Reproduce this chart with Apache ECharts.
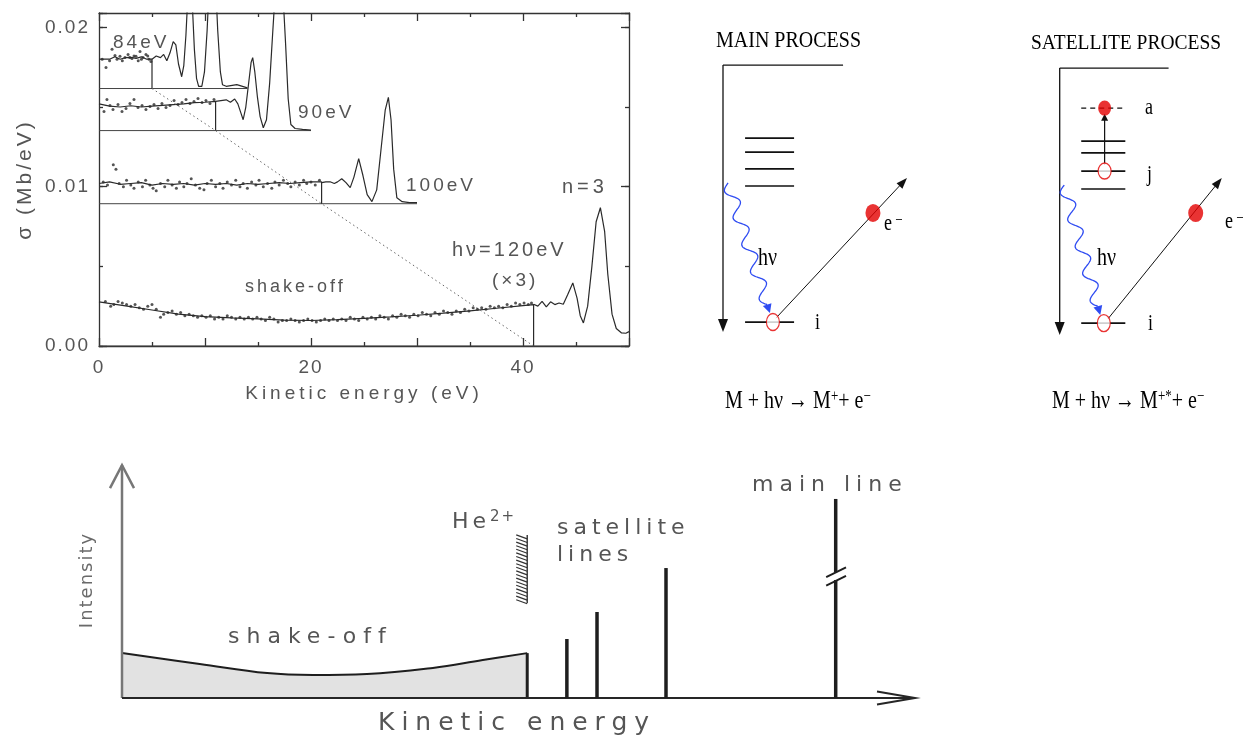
<!DOCTYPE html>
<html>
<head>
<meta charset="utf-8">
<script src="https://cdn.jsdelivr.net/npm/echarts@6/dist/echarts.min.js"></script>
<style>
  html, body { margin: 0; padding: 0; background: #fff; }
  #c { width: 1246px; height: 738px; }
</style>
</head>
<body>
<div id="c"></div>
<script>
// Letter-spaced lettering: a font list that ends in "trackN" is drawn with N px tracking.
(function () {
  const P = CanvasRenderingContext2D.prototype;
  if (!('letterSpacing' in P)) return;
  const apply = (ctx) => {
    const m = /track(\d+(?:\.\d+)?)/.exec(ctx.font);
    ctx.letterSpacing = m ? m[1] + 'px' : '0px';
  };
  const fill = P.fillText, stroke = P.strokeText, measure = P.measureText;
  P.fillText = function () { apply(this); return fill.apply(this, arguments); };
  P.strokeText = function () { apply(this); return stroke.apply(this, arguments); };
  P.measureText = function () { apply(this); return measure.apply(this, arguments); };
})();

// ---------------- He photoelectron spectra (upper left panel) ----------------
// kinetic energy in eV, cross section in Mb/eV; traces are stacked with vertical offsets
const photonLabels = ['84eV', '90eV', '100eV', 'hν=120eV'];
const thresholds = [5, 11, 21, 41];             // He2+ threshold: hν − 79 eV
const baselines = [0.01616, 0.01352, 0.00893, 0];
const traceEnds = [14, 20, 30, 50];
const xTickLabels = [0, 20, 40];
const yTickLabels = ['0.00', '0.01', '0.02'];

const level84 = [[0,0.0180],[1.0,0.0180],[1.5,0.01815],[2.0,0.0180],[2.5,0.0181],[3.0,0.01812],[3.5,0.01805],[4.0,0.01815],[4.5,0.0180],[5.0,0.0180]];
const trace84 = [[5.0,0.0180],[5.4,0.0182],[5.8,0.0181],[6.1,0.0183],[6.4,0.0179],[6.7,0.0184],[7.0,0.0191],[7.25,0.0189],[7.5,0.0177],[7.8,0.0169],[8.0,0.0176],[8.2,0.0195],[8.4,0.0222],[8.6,0.0240],[8.8,0.0215],[9.0,0.0186],[9.2,0.0168],[9.4,0.0163],[9.7,0.0163],[9.95,0.0172],[10.2,0.0198],[10.45,0.0235],[10.7,0.0262],[10.95,0.0235],[11.2,0.0198],[11.45,0.0172],[11.65,0.0164],[12.0,0.0163],[13.0,0.0164],[14.0,0.0162]];
const dots84 = [[0.3,0.0180],[0.66,0.01748],[1.0,0.0179],[1.23,0.01862],[1.51,0.01824],[1.7,0.0180],[1.98,0.01818],[2.2,0.0179],[2.45,0.01811],[2.74,0.0183],[2.9,0.0181],[3.11,0.01805],[3.3,0.0182],[3.49,0.01818],[3.7,0.0179],[3.87,0.01849],[4.0,0.0180],[4.15,0.01811],[4.43,0.0183],[4.6,0.0182],[4.72,0.01799],[4.9,0.01786]];

const level90 = [[0,0.0152],[1,0.01505],[2,0.0150],[3,0.01508],[4,0.0150],[5,0.01505],[6,0.0151],[7,0.01515],[8,0.0152],[9,0.01528],[10,0.0153],[11,0.01535]];
const trace90 = [[11.0,0.01535],[11.5,0.0154],[12.0,0.01545],[12.4,0.0153],[12.8,0.0155],[13.1,0.0152],[13.4,0.0146],[13.6,0.0142],[13.85,0.0150],[14.1,0.0164],[14.35,0.0178],[14.5,0.0181],[14.7,0.0172],[14.95,0.0156],[15.2,0.0144],[15.5,0.0137],[15.8,0.0142],[16.1,0.0165],[16.4,0.0198],[16.7,0.0230],[17.0,0.0250],[17.3,0.0228],[17.6,0.0190],[17.85,0.0155],[18.1,0.0139],[18.5,0.01365],[19.2,0.0136],[20.0,0.01355]];
const dots90 = [[0.47,0.01472],[0.75,0.01547],[1.04,0.01509],[1.32,0.01484],[1.79,0.01516],[2.17,0.01472],[2.55,0.0149],[2.92,0.01522],[3.3,0.01547],[3.68,0.01497],[4.06,0.01509],[4.43,0.01484],[4.81,0.01503],[5.19,0.01516],[5.57,0.0149],[5.94,0.01522],[6.32,0.01497],[6.7,0.01509],[7.08,0.01541],[7.45,0.01516],[7.83,0.01528],[8.21,0.01547],[8.58,0.01522],[8.96,0.01535],[9.34,0.01553],[9.72,0.01528],[10.09,0.01541],[10.47,0.01522],[10.85,0.01547]];

const level100 = [[0,0.0102],[1,0.0103],[2,0.01015],[3,0.0102],[4,0.01025],[5,0.0101],[6,0.0102],[7,0.01015],[8,0.0102],[9,0.0101],[10,0.0102],[11,0.01015],[12,0.0102],[13,0.0101],[14,0.0102],[15,0.01015],[16,0.0102],[17,0.01025],[18,0.0102],[19,0.01025],[20,0.0103],[21,0.0103]];
const trace100 = [[21.0,0.01025],[21.4,0.0103],[21.8,0.01031],[22.2,0.0102],[22.5,0.0103],[22.9,0.0105],[23.3,0.01025],[23.7,0.00994],[24.05,0.0106],[24.5,0.01176],[24.9,0.0107],[25.3,0.0095],[25.75,0.00906],[26.2,0.0098],[26.6,0.0123],[27.0,0.0148],[27.3,0.0156],[27.55,0.0142],[27.8,0.0111],[28.1,0.0093],[28.6,0.00906],[29.3,0.0090],[30.0,0.0090]];
const dots100 = [[0.4,0.0103],[0.8,0.0101],[1.35,0.01138],[1.6,0.0111],[1.9,0.0102],[2.3,0.0100],[2.6,0.0104],[3.0,0.0101],[3.3,0.0099],[3.7,0.0103],[4.1,0.0100],[4.4,0.0104],[4.8,0.0101],[5.1,0.0099],[5.4,0.00975],[5.8,0.0102],[6.2,0.0100],[6.5,0.0104],[6.9,0.0101],[7.3,0.0099],[7.6,0.0103],[8.0,0.0100],[8.3,0.0102],[8.7,0.0105],[9.1,0.0101],[9.5,0.0099],[9.9,0.0098],[10.2,0.0102],[10.6,0.0104],[11.0,0.0100],[11.4,0.0102],[11.7,0.0099],[12.1,0.0103],[12.5,0.0101],[12.9,0.0104],[13.3,0.0100],[13.6,0.0102],[14.0,0.0099],[14.4,0.0103],[14.8,0.0101],[15.1,0.0104],[15.5,0.0100],[15.9,0.0102],[16.3,0.0099],[16.6,0.0103],[17.0,0.0101],[17.4,0.0104],[17.8,0.0102],[18.1,0.0100],[18.5,0.0103],[18.9,0.0101],[19.3,0.0104],[19.6,0.0102],[20.0,0.0103],[20.4,0.0101],[20.8,0.0104]];

const level120 = [[0,0.00277],[2.5,0.00252],[5,0.00226],[7.5,0.00200],[10,0.00184],[12.5,0.00176],[15,0.00170],[17.5,0.00163],[20,0.00160],[22.5,0.00165],[25,0.00174],[27.5,0.00183],[30,0.00193],[32.5,0.00206],[35,0.00220],[37.5,0.00237],[40,0.00254],[41,0.00260]];
const trace120 = [[41.0,0.00262],[41.4,0.0025],[41.8,0.0028],[42.2,0.00245],[42.6,0.00277],[43.0,0.0026],[43.4,0.0027],[43.8,0.00262],[44.2,0.0032],[44.7,0.00396],[45.1,0.0030],[45.4,0.0019],[45.7,0.00145],[46.1,0.0025],[46.5,0.0050],[46.9,0.0078],[47.3,0.00868],[47.7,0.0072],[48.0,0.0045],[48.4,0.0020],[48.8,0.0011],[49.3,0.00082],[49.7,0.0008],[50.0,0.0009]];
const dots120 = [[0.6,0.0028],[1.1,0.0025],[1.4,0.0026],[1.8,0.0028],[2.2,0.0027],[2.6,0.0026],[3.0,0.0025],[3.4,0.0026],[3.8,0.0024],[4.2,0.0023],[4.6,0.0025],[5.0,0.0026],[5.4,0.0023],[5.8,0.0018],[6.1,0.0020],[6.5,0.0021],[6.9,0.0022],[7.3,0.0020],[7.7,0.0021],[8.1,0.0019],[8.5,0.0020],[8.9,0.0019],[9.3,0.0018],[9.7,0.0019],[10.1,0.0018],[10.5,0.0019],[10.9,0.0017],[11.3,0.0018],[11.7,0.0017],[12.1,0.0019],[12.5,0.0018],[12.9,0.0017],[13.3,0.0018],[13.7,0.0017],[14.1,0.0018],[14.5,0.0017],[14.9,0.0018],[15.3,0.0017],[15.7,0.0016],[16.1,0.0018],[16.5,0.0017],[16.9,0.0015],[17.3,0.0016],[17.7,0.0016],[18.1,0.0017],[18.5,0.0016],[18.9,0.0015],[19.3,0.0016],[19.7,0.0017],[20.1,0.0016],[20.5,0.0015],[20.9,0.0016],[21.3,0.0017],[21.7,0.0016],[22.1,0.0017],[22.5,0.0016],[22.9,0.0017],[23.3,0.0016],[23.7,0.0018],[24.1,0.0017],[24.5,0.0016],[24.9,0.0018],[25.3,0.0017],[25.7,0.0018],[26.1,0.0017],[26.5,0.0019],[26.9,0.0018],[27.3,0.0017],[27.7,0.0019],[28.1,0.0018],[28.5,0.0020],[28.9,0.0019],[29.3,0.0018],[29.7,0.0020],[30.1,0.0019],[30.5,0.0021],[30.9,0.0020],[31.3,0.0019],[31.7,0.0021],[32.1,0.0020],[32.5,0.0022],[32.9,0.0021],[33.3,0.0020],[33.7,0.0022],[34.1,0.0021],[34.5,0.0023],[34.9,0.0022],[35.3,0.0024],[35.7,0.0023],[36.1,0.0024],[36.5,0.0023],[36.9,0.0025],[37.3,0.0024],[37.7,0.0025],[38.1,0.0024],[38.5,0.0026],[38.9,0.0025],[39.3,0.0027],[39.7,0.0026],[40.1,0.0027],[40.5,0.0026],[40.8,0.0027]];

// ---------------- Schematic spectrum (bottom) ----------------
// arbitrary units: kinetic energy 0–100, intensity 0–100
const shakeOffCurve = [[0,19.1],[9.8,14.5],[18.3,10.6],[24.1,9.8],[30.9,10.2],[39.2,12.8],[45.5,16.2],[51.1,19.1]];
const heThreshold = [51.1, 40.4, 69.4];          // position, lower and upper end of the He2+ band
const satelliteLines = [[56.1,25.1],[59.9,36.6],[68.6,55.3]];
const mainLine = [90.0, 84.7];
const mainLineBreak = [50.2, 53.6];

// ---------------- Energy-level diagrams (upper right) ----------------
// arbitrary units 0–100 across and up each diagram
const mainLevels = [72.1, 67.1, 61.1, 55.0];
const mainCore = 6.4;
const satLevels = [72.1, 67.9, 61.4, 55.0];
const satExcited = 83.9;
const satCore = 7.1;

const INK = '#2a2a2a';
const GREY_TEXT = '#555';
const RED = '#e40000';
const BLUE = '#2f4cf2';
const SANS = "'Liberation Sans'";
const SERIF = "'Liberation Serif'";
const SCHEMA = "'DejaVu Sans'";
const tracked = (family, px) => family + ', track' + px;

// axis index pairs [x, y] per grid
const AX = { spec: [0, 0], schema: [2, 4], main: [3, 5], sat: [4, 6] };

function lineSeries(data, width, extra) {
  return Object.assign({
    type: 'line', xAxisIndex: 0, yAxisIndex: 0, data, showSymbol: false, symbol: 'none',
    lineStyle: { color: INK, width }, silent: true, z: 3
  }, extra || {});
}

function customSeries(ax, data, renderItem, z, encode) {
  return {
    type: 'custom', coordinateSystem: 'cartesian2d', xAxisIndex: ax[0], yAxisIndex: ax[1],
    data, renderItem, clip: false, silent: true, z: z || 3,
    encode: encode || { x: [0, 2], y: [1, 3] }
  };
}

function segments(color, width, dash) {
  return (params, api) => {
    const a = api.coord([api.value(0), api.value(1)]);
    const b = api.coord([api.value(2), api.value(3)]);
    return { type: 'line', shape: { x1: a[0], y1: a[1], x2: b[0], y2: b[1] },
      style: { stroke: color, lineWidth: width, lineDash: dash || null } };
  };
}

function arrows(color, width, len, half, open) {
  return (params, api) => {
    const a = api.coord([api.value(0), api.value(1)]);
    const b = api.coord([api.value(2), api.value(3)]);
    const dx = b[0] - a[0], dy = b[1] - a[1], L = Math.hypot(dx, dy);
    const ux = dx / L, uy = dy / L;
    const base = [b[0] - ux * len, b[1] - uy * len];
    const l = [base[0] - uy * half, base[1] + ux * half];
    const r = [base[0] + uy * half, base[1] - ux * half];
    const end = open ? b : [b[0] - ux * len * 0.5, b[1] - uy * len * 0.5];
    const children = [{ type: 'line', shape: { x1: a[0], y1: a[1], x2: end[0], y2: end[1] },
      style: { stroke: color, lineWidth: width } }];
    if (open) children.push({ type: 'polyline', shape: { points: [l, b, r] }, style: { stroke: color, lineWidth: width, fill: null } });
    else children.push({ type: 'polygon', shape: { points: [l, b, r] }, style: { fill: color } });
    return { type: 'group', children };
  };
}

// wavy photon line ending in an arrowhead
function photon(params, api) {
  const a = api.coord([api.value(0), api.value(1)]);
  const b = api.coord([api.value(2), api.value(3)]);
  const dx = b[0] - a[0], dy = b[1] - a[1], L = Math.hypot(dx, dy);
  const ux = dx / L, uy = dy / L, nx = -uy, ny = ux;
  const head = 9, body = L - head, turns = 4.5, amp = 6;
  const pts = [];
  for (let i = 0; i <= 180; i++) {
    const s = i / 180, d = s * body, w = amp * Math.sin(2 * Math.PI * turns * s);
    pts.push([a[0] + ux * d + nx * w, a[1] + uy * d + ny * w]);
  }
  const base = [a[0] + ux * body, a[1] + uy * body];
  return { type: 'group', children: [
    { type: 'polyline', shape: { points: pts }, style: { stroke: BLUE, lineWidth: 1.3, fill: null } },
    { type: 'polygon', shape: { points: [[base[0] + nx * 4.5, base[1] + ny * 4.5], b, [base[0] - nx * 4.5, base[1] - ny * 4.5]] }, style: { fill: BLUE } }
  ] };
}

// hatched band marking the He2+ threshold
function hatch(params, api) {
  const top = api.coord([api.value(0), api.value(2)]);
  const bot = api.coord([api.value(0), api.value(1)]);
  const children = [{ type: 'line', shape: { x1: top[0], y1: top[1], x2: bot[0], y2: bot[1] }, style: { stroke: '#333', lineWidth: 1.4 } }];
  for (let y = top[1]; y < bot[1] - 3; y += 3.6) {
    children.push({ type: 'line', shape: { x1: top[0] - 11, y1: y, x2: top[0], y2: y + 4 }, style: { stroke: '#333', lineWidth: 1.2 } });
  }
  return { type: 'group', children };
}

// ---------------- series ----------------
const series = [];
const spectra = [
  { level: level84, trace: trace84, dots: dots84 },
  { level: level90, trace: trace90, dots: dots90 },
  { level: level100, trace: trace100, dots: dots100 },
  { level: level120, trace: trace120, dots: dots120 }
];
spectra.forEach((s, k) => {
  const b = baselines[k], t = thresholds[k];
  series.push(lineSeries([[0, b], [traceEnds[k], b]], 1, { lineStyle: { color: '#444', width: 1 } }));
  series.push(lineSeries(s.level.concat([[t, b]]), 1.2));
  series.push(lineSeries(s.trace, 1.2));
  series.push({ type: 'scatter', xAxisIndex: 0, yAxisIndex: 0, data: s.dots, symbolSize: 3,
    itemStyle: { color: INK }, silent: true, z: 4 });
});
series.push(lineSeries(thresholds.map((t, k) => [t, baselines[k]]), 1,
  { lineStyle: { color: '#666', width: 1, type: [1.5, 3] } }));

// schematic spectrum
series.push({
  type: 'line', xAxisIndex: AX.schema[0], yAxisIndex: AX.schema[1], data: shakeOffCurve,
  smooth: 0.4, showSymbol: false, symbol: 'none', silent: true, z: 2,
  lineStyle: { color: '#1e1e1e', width: 2 }, areaStyle: { color: '#e2e2e2', opacity: 1 }
});
const soEnd = shakeOffCurve[shakeOffCurve.length - 1];
series.push(customSeries(AX.schema, [[soEnd[0], 0, soEnd[0], soEnd[1]]], segments('#1e1e1e', 3), 3));
series.push(customSeries(AX.schema, [[0, 0, 0, 99.1]], arrows('#777', 2.5, 23, 12, true), 3));
series.push(customSeries(AX.schema, [[0, 0, 100, 0]], arrows('#262626', 2, 38, 6.5, true), 3));
series.push(customSeries(AX.schema, [heThreshold], hatch, 3, { x: 0, y: [1, 2] }));
series.push(customSeries(AX.schema, satelliteLines.map(p => [p[0], 0, p[0], p[1]]), segments('#1e1e1e', 3.5), 3));
series.push(customSeries(AX.schema, [
  [mainLine[0], 0, mainLine[0], mainLineBreak[0]],
  [mainLine[0], mainLineBreak[1], mainLine[0], mainLine[1]]
], segments('#1e1e1e', 3.5), 3));
series.push(customSeries(AX.schema, [
  [mainLine[0] - 1.2, mainLineBreak[0] - 2.4, mainLine[0] + 1.3, mainLineBreak[0] + 1.8],
  [mainLine[0] - 1.2, mainLineBreak[1] - 2.2, mainLine[0] + 1.3, mainLineBreak[1] + 2.0]
], segments('#1e1e1e', 2), 3));

// energy-level diagrams
function diagram(ax, levels, core, span, frameRight, electron, dot, wave, coreX) {
  series.push(customSeries(ax, [[10, 98.2, frameRight, 98.2]], segments('#111', 1.3)));
  series.push(customSeries(ax, [[10, 98.2, 10, 2.9]], arrows('#111', 1.3, 13, 5, false)));
  series.push(customSeries(ax, levels.concat([core]).map(y => [span[0], y, span[1], y]), segments('#111', 1.6)));
  series.push(customSeries(ax, [electron], arrows('#111', 1, 11, 4, false)));
  series.push(customSeries(ax, [wave], photon, 4));
  series.push({ type: 'scatter', xAxisIndex: ax[0], yAxisIndex: ax[1], data: [[coreX, core]],
    symbolSize: [13, 17], itemStyle: { color: '#fff', borderColor: RED, borderWidth: 1.3 }, silent: true, z: 5 });
  series.push({ type: 'scatter', xAxisIndex: ax[0], yAxisIndex: ax[1], data: [dot],
    symbolSize: [15, 18], itemStyle: { color: RED }, silent: true, z: 5 });
}
diagram(AX.main, mainLevels, mainCore, [19.6, 40.9], 62.2, [33.0, 7.8, 90.0, 57.9], [75.2, 45.4], [12.2, 56.1, 30.4, 9.6], 31.7);
diagram(AX.sat, satLevels, satCore, [20.4, 41.7], 62.6, [33.3, 8.6, 88.3, 58.9], [75.7, 46.4], [12.2, 56.4, 29.6, 10.0], 31.3);
// excitation j -> a in the satellite process
series.push(customSeries(AX.sat, [[20.4, satExcited, 41.7, satExcited]], segments('#111', 1.4, [5, 4])));
series.push(customSeries(AX.sat, [[31.7, satLevels[2] + 2.3, 31.7, satExcited - 2.0]], arrows('#111', 1.2, 7, 3.5, false)));
series.push({ type: 'scatter', xAxisIndex: AX.sat[0], yAxisIndex: AX.sat[1], data: [[31.7, satLevels[2]]],
  symbolSize: [13, 16], itemStyle: { color: '#fff', borderColor: RED, borderWidth: 1.3 }, silent: true, z: 5 });
series.push({ type: 'scatter', xAxisIndex: AX.sat[0], yAxisIndex: AX.sat[1], data: [[31.7, satExcited]],
  symbolSize: [13, 15], itemStyle: { color: RED }, silent: true, z: 6 });

// ---------------- axes ----------------
const axisInk = { color: '#333', width: 1.3 };
const hiddenAxis = (grid) => ({ gridIndex: grid, type: 'value', min: 0, max: 100, show: false });
const specX = (pos, labels) => ({
  gridIndex: 0, type: 'value', min: 0, max: 50, interval: 10, position: pos,
  axisLine: { show: true, onZero: false, lineStyle: axisInk },
  axisTick: { show: true, inside: true, length: 8, lineStyle: axisInk },
  minorTick: { show: true, splitNumber: 2, length: 4, lineStyle: axisInk },
  splitLine: { show: false },
  axisLabel: labels ? {
    formatter: v => xTickLabels.indexOf(v) >= 0 ? String(v) : '',
    margin: 11, color: GREY_TEXT, fontSize: 19, fontFamily: tracked(SANS, 2)
  } : { show: false }
});
const specY = (pos, interval, len, labels, line) => ({
  gridIndex: 0, type: 'value', min: 0, max: 0.0209, interval, position: pos,
  axisLine: { show: line, onZero: false, lineStyle: axisInk },
  axisTick: { show: true, inside: true, length: len, lineStyle: axisInk },
  splitLine: { show: false },
  axisLabel: labels ? {
    formatter: v => { const i = Math.round(v / 0.01); return Math.abs(v - i * 0.01) < 1e-9 ? (yTickLabels[i] || '') : ''; },
    margin: 9, color: GREY_TEXT, fontSize: 19, fontFamily: tracked(SANS, 2)
  } : { show: false }
});

const xAxes = [
  Object.assign(specX('bottom', true), {
    name: 'Kinetic energy (eV)', nameLocation: 'middle', nameGap: 36,
    nameTextStyle: { color: GREY_TEXT, fontSize: 19, fontFamily: tracked(SANS, 4) }
  }),
  specX('top', false),
  hiddenAxis(1), hiddenAxis(2), hiddenAxis(3)
];
const yAxes = [
  Object.assign(specY('left', 0.01, 8, true, true), {
    name: 'σ (Mb/eV)', nameLocation: 'middle', nameGap: 62,
    nameTextStyle: { color: GREY_TEXT, fontSize: 21, fontFamily: tracked(SANS, 3) }
  }),
  specY('left', 0.005, 4, false, false),
  specY('right', 0.01, 8, false, true),
  specY('right', 0.005, 4, false, false),
  hiddenAxis(1), hiddenAxis(2), hiddenAxis(3)
];

// ---------------- text ----------------
function label(text, x, y, font, extra) {
  return Object.assign({
    type: 'text', x, y, silent: true, z: 10,
    style: { text, font, fill: GREY_TEXT, align: 'left', verticalAlign: 'middle',
      textAlign: 'left', textVerticalAlign: 'middle' }
  }, extra || {});
}
function serif(text, x, y, size, scaleY, rich) {
  const el = label(text, x, y, size + 'px ' + SERIF, { scaleY });
  el.style.fill = '#000';
  if (rich) el.style.rich = rich;
  return el;
}
const supRich = {
  n: { font: '20px ' + SERIF, fill: '#000', verticalAlign: 'bottom' },
  s: { font: '13px ' + SERIF, fill: '#000', verticalAlign: 'top' }
};
const labelRich = {
  n: { font: '18px ' + SERIF, fill: '#000', verticalAlign: 'bottom' },
  s: { font: '13px ' + SERIF, fill: '#000', verticalAlign: 'top' }
};

const texts = [
  label(photonLabels[0], 113, 43, '19px ' + tracked(SANS, 3)),
  label(photonLabels[1], 298, 113, '19px ' + tracked(SANS, 3)),
  label(photonLabels[2], 406, 186, '19px ' + tracked(SANS, 3)),
  label(photonLabels[3], 452, 250, '20px ' + tracked(SANS, 3)),
  label('(×3)', 492, 281, '19px ' + tracked(SANS, 3)),
  label('n=3', 562, 187, '20px ' + tracked(SANS, 4)),
  label('shake-off', 245, 287, '18px ' + tracked(SANS, 3)),

  serif('MAIN PROCESS', 716, 41, 20, 1.12),
  serif('SATELLITE PROCESS', 1031, 43, 19.5, 1.12),
  serif('{n|M + hν → M}{s|+}{n|+ e}{s|−}', 725, 401, 20, 1.3, supRich),
  serif('{n|M + hν → M}{s|+*}{n|+ e}{s|−}', 1052, 401, 20, 1.3, supRich),
  serif('hν', 758, 258, 20, 1.3),
  serif('hν', 1097, 258, 20, 1.3),
  serif('i', 815, 323, 18, 1.3),
  serif('i', 1148, 324, 18, 1.3),
  serif('j', 1147, 175, 18, 1.3),
  serif('a', 1145, 108, 18, 1.3),
  serif('{n|e}{s| −}', 884, 224, 18, 1.3, labelRich),
  serif('{n|e}{s| −}', 1225, 222, 18, 1.3, labelRich),

  label('Intensity', 87, 580, '18px ' + tracked(SCHEMA, 2), {
    rotation: Math.PI / 2,
    style: { text: 'Intensity', font: '18px ' + tracked(SCHEMA, 2), fill: '#6a6a6a',
      align: 'center', verticalAlign: 'middle', textAlign: 'center', textVerticalAlign: 'middle' }
  }),
  label('shake-off', 228, 637, '22px ' + tracked(SCHEMA, 7)),
  label('{n|He}{s|2+}', 452, 522, '22px ' + tracked(SCHEMA, 4), {
    style: { text: '{n|He}{s|2+}', fill: GREY_TEXT, align: 'left', verticalAlign: 'middle',
      textAlign: 'left', textVerticalAlign: 'middle',
      rich: { n: { font: '22px ' + tracked(SCHEMA, 4), fill: GREY_TEXT, verticalAlign: 'bottom' },
              s: { font: '15px ' + tracked(SCHEMA, 2), fill: GREY_TEXT, verticalAlign: 'top' } } }
  }),
  label('satellite', 557, 528, '22px ' + tracked(SCHEMA, 5)),
  label('lines', 557, 555, '22px ' + tracked(SCHEMA, 5)),
  label('main line', 752, 485, '22px ' + tracked(SCHEMA, 6)),
  label('Kinetic energy', 378, 723, '25px ' + tracked(SCHEMA, 7))
];

const chart = echarts.init(document.getElementById('c'), null, { renderer: 'canvas', width: 1246, height: 738 });
chart.setOption({
  backgroundColor: '#fff',
  animation: false,
  grid: [
    { left: 99, top: 13, width: 530, height: 333 },
    { left: 122, top: 463, width: 793, height: 235 },
    { left: 700, top: 60, width: 230, height: 280 },
    { left: 1039, top: 63, width: 230, height: 280 }
  ],
  xAxis: xAxes,
  yAxis: yAxes,
  series,
  graphic: { elements: texts }
});
</script>
</body>
</html>
